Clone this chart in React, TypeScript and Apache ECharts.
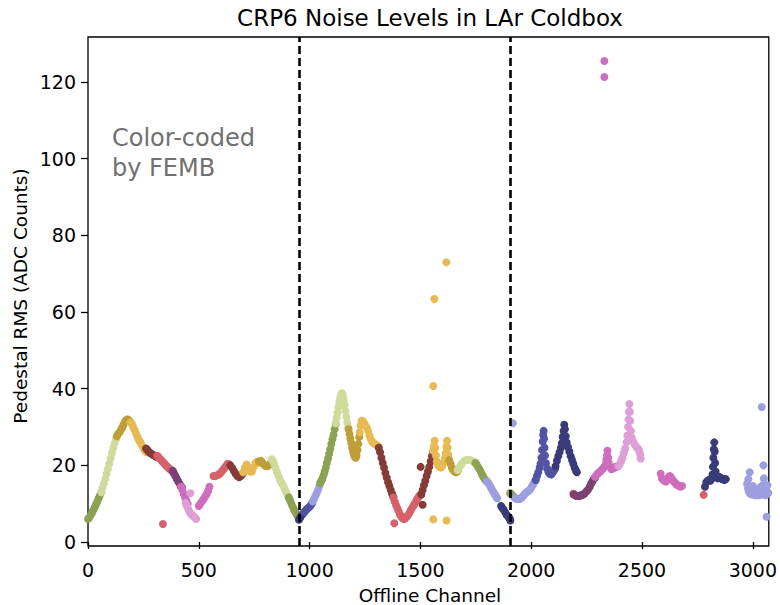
import React, { useEffect, useRef } from 'react';
import * as echarts from 'echarts';

// ---- axis ticks and view boundaries ----
const X_TICKS = [0, 500, 1000, 1500, 2000, 2500, 3000];
const Y_TICKS = [0, 20, 40, 60, 80, 100, 120];
const VIEW_BOUNDARIES = [952, 1904];

// ---- FEMB colour palette ----
const PALETTE = {
  olive: '#8ca252',
  lightGreen: '#cedb9c',
  gold: '#bd9e39',
  yellow: '#e7ba52',
  darkRed: '#843c39',
  red: '#d6616b',
  purple: '#7b4173',
  pink: '#ce6dbd',
  lightPink: '#de9ed6',
  navy: '#393b79',
  blue: '#5254a3',
  lightBlue: '#9c9ede',
};

// ---- data: [offline channel, pedestal RMS] ----
const s01 = [[0,6.0],[6,6.4],[12,7.0],[18,7.6],[24,8.3],[30,9.0],[36,9.8],[42,10.6],[48,11.4],[54,12.2],[60,13.0]];
const s02 = [[60,13.0],[66,14.2],[72,15.3],[78,16.5],[84,17.8],[90,19.1],[96,20.4],[102,21.8],[108,23.2],[114,24.6],[120,25.8],[126,26.8],[130,27.4]];
const s03 = [[130,27.6],[136,28.2],[142,28.6],[148,29.2],[154,29.8],[160,30.6],[166,31.4],[172,31.8],[178,32.0],[184,31.8],[190,31.4]];
const s04 = [[192,31.2],[198,30.8],[204,30.0],[210,29.2],[216,28.4],[222,27.6],[228,26.8],[234,26.2],[240,25.6],[246,25.0],[252,24.4],[258,23.8],[264,23.4]];
const s05 = [[262,24.4],[268,24.0],[274,23.6],[280,23.2],[286,23.0],[292,22.8],[298,22.6],[304,22.4],[310,22.2]];
const s06 = [[312,22.5],[318,22.2],[324,21.8],[330,21.4],[336,21.0],[342,20.6],[348,20.2],[354,19.8],[360,19.6],[366,19.2],[372,18.9],[378,18.6],[384,18.4],[338,4.7]];
const s07 = [[382,18.6],[388,17.9],[394,17.2],[400,16.6],[406,15.9],[412,15.3],[418,14.7],[424,14.2]];
const s08 = [[420,14.4],[426,13.6],[432,12.6],[438,11.6],[444,10.8],[450,9.9]];
const s09 = [[440,10.2],[446,9.4],[452,8.6],[458,7.9],[464,7.4],[470,7.0],[476,6.8],[482,6.4],[488,6.0],[462,12.7]];
const s10 = [[500,9.4],[506,9.9],[512,10.4],[518,10.9],[524,11.4],[530,12.0],[536,12.6],[542,13.4],[548,14.4]];
const s11 = [[566,17.2],[574,17.2],[582,17.4],[590,17.6],[598,18.0],[606,18.6],[614,19.2],[622,19.8],[630,20.4],[638,20.2]];
const s12 = [[642,20.0],[650,19.4],[658,18.6],[666,17.8],[674,17.2],[682,16.9],[690,17.2],[698,17.8]];
const s13 = [[700,18.2],[708,19.4],[716,20.2],[724,19.4],[732,18.4],[740,18.4],[748,19.6],[756,20.6],[764,21.0],[772,20.6]];
const s14 = [[772,21.0],[780,21.2],[788,20.6],[796,20.0],[804,19.8],[812,19.8],[820,20.2],[826,20.8]];
const s15 = [[828,21.6],[834,21.2],[840,20.4],[846,19.4],[852,18.4],[858,17.4],[864,16.6],[870,15.8],[876,15.2],[882,14.6],[888,13.8],[894,13.0],[900,12.2],[906,11.6]];
const s16 = [[906,11.6],[912,10.8],[918,10.0],[924,9.2],[930,8.4],[936,7.8],[942,7.2],[948,6.6],[952,6.2]];
const s17 = [[952,5.8],[958,6.4],[964,7.0],[970,7.4],[976,7.8]];
const s18 = [[976,7.8],[982,8.2],[988,8.6],[994,8.9],[1000,9.2],[1006,9.6],[1012,10.2]];
const s19 = [[1014,10.6],[1020,11.3],[1026,12.0],[1032,12.8],[1038,13.6],[1044,14.6],[1048,15.4]];
const s20 = [[1048,15.4],[1053,16.0],[1058,16.6],[1063,17.4],[1068,18.4],[1073,19.4],[1078,20.6],[1083,21.8],[1088,23.0],[1093,24.2],[1098,25.6],[1103,26.8],[1108,28.0],[1113,29.4],[1118,30.8]];
const s21 = [[1118,31.0],[1122,32.4],[1126,33.8],[1130,35.2],[1134,36.6],[1138,37.6],[1142,38.4],[1146,38.8],[1150,38.4],[1154,37.2],[1158,35.8],[1162,34.2],[1166,32.6],[1170,31.2],[1174,30.0]];
const s22 = [[1176,29.4],[1180,28.2],[1184,27.0],[1188,25.8],[1192,24.6],[1196,23.6],[1200,22.8],[1204,22.2],[1208,22.0],[1212,22.6],[1216,24.0],[1220,25.6],[1224,27.4]];
const s23 = [[1226,28.6],[1230,30.4],[1234,31.6],[1240,31.6],[1246,31.0],[1252,30.4],[1258,29.8],[1264,29.0],[1270,27.8],[1276,26.8],[1282,26.2],[1288,25.8],[1294,25.6],[1300,25.4],[1306,25.2],[1312,24.8]];
const s24 = [[1312,24.6],[1318,23.4],[1324,22.0],[1330,20.6],[1336,19.4],[1342,18.0],[1348,16.8],[1354,15.6],[1360,14.6],[1366,13.6],[1372,12.6],[1378,11.8]];
const s25 = [[1378,11.6],[1384,10.6],[1390,9.6],[1396,8.8],[1402,8.0],[1408,7.2],[1414,6.6],[1420,6.2],[1426,6.0],[1432,6.2],[1438,6.6],[1444,7.0],[1450,7.6],[1456,8.2],[1462,8.8],[1468,9.4],[1474,10.0],[1480,10.6],[1486,11.2],[1492,11.8],[1498,12.2],[1504,12.6],[1382,4.9]];
const s26 = [[1504,12.4],[1510,13.6],[1516,14.8],[1522,16.0],[1528,17.2],[1534,18.4],[1540,19.6],[1546,21.0],[1552,22.4],[1558,23.6],[1501,19.6],[1510,9.7]];
const s27 = [[1558,23.8],[1561,25.0],[1564,26.4],[1567,24.6],[1570,22.6],[1574,21.0],[1580,20.0],[1586,19.6],[1592,19.4],[1598,19.8],[1604,20.6],[1610,21.8],[1614,23.2],[1617,24.8],[1620,26.4],[1623,24.6],[1626,22.8],[1630,21.2],[1558,40.7],[1563,63.4],[1617,73.0],[1558,5.9],[1618,5.6]];
const s28 = [[1630,21.4],[1636,20.4],[1642,19.4],[1648,18.8],[1654,18.4],[1660,18.2],[1666,18.4],[1670,18.8]];
const s29 = [[1668,18.8],[1676,19.6],[1684,20.2],[1692,20.8],[1700,21.2],[1708,21.4],[1716,21.4],[1724,21.4],[1732,21.2],[1740,21.0],[1748,20.6]];
const s30 = [[1748,20.6],[1754,20.2],[1760,19.6],[1766,19.0],[1772,18.4],[1778,17.6],[1784,17.0],[1790,16.4],[1796,16.0]];
const s31 = [[1800,15.8],[1806,15.4],[1812,14.8],[1818,14.2],[1824,13.6],[1830,13.0],[1836,12.4],[1842,11.8],[1846,11.4]];
const s32 = [[1864,9.4],[1870,8.8],[1876,8.4],[1882,7.8],[1888,7.2],[1894,6.8],[1900,6.4],[1904,6.0],[1906,5.6]];
const s33 = [[1906,12.6],[1912,12.4],[1918,12.0],[1924,11.6],[1930,11.4],[1936,11.2],[1942,11.2],[1948,11.2],[1954,11.4],[1960,11.8],[1966,12.2],[1972,12.6],[1978,13.0],[1984,13.2],[1990,13.4],[1996,13.8],[2002,14.4],[2008,15.0],[2014,15.6],[2020,16.2],[1917,31.0]];
const s34 = [[1905,12.8]];
const s35 = [[2020,16.2],[2026,17.2],[2032,18.2],[2038,19.4],[2042,20.4],[2046,22.0],[2049,24.0],[2052,26.2],[2054,28.0],[2056,29.0],[2058,27.0],[2060,24.6],[2062,22.6],[2066,20.6],[2072,19.2],[2078,18.2],[2084,17.8],[2090,17.6],[2096,18.0],[2102,18.6],[2108,19.2]];
const s36 = [[2110,19.8],[2116,21.2],[2122,22.4],[2128,23.4],[2134,24.6],[2138,25.8],[2142,27.4],[2146,29.0],[2149,30.6],[2152,29.4],[2156,27.6],[2160,26.0],[2166,24.8],[2172,23.6],[2178,22.4],[2184,21.4],[2190,20.4],[2196,19.4],[2202,18.6],[2206,18.2]];
const s37 = [[2190,12.6]];
const s38 = [[2192,12.4],[2198,12.2],[2204,12.0],[2210,12.0],[2216,12.0],[2222,12.2],[2228,12.2],[2234,12.4],[2240,12.6],[2246,13.0],[2252,13.4],[2258,13.8],[2264,14.4],[2270,15.2],[2276,15.8],[2282,16.4],[2288,16.8]];
const s39 = [[2288,17.0],[2294,17.4],[2300,17.8],[2306,18.2],[2312,18.4],[2318,18.8],[2324,19.2],[2330,19.6],[2336,20.2],[2339,21.4],[2342,22.6],[2344,23.8],[2347,22.0],[2350,20.6],[2356,19.6],[2362,19.0],[2368,19.2],[2374,19.4],[2380,19.6],[2386,19.6],[2392,19.8],[2330,121.3],[2330,125.5]];
const s40 = [[2394,19.8],[2400,20.4],[2406,21.2],[2412,22.0],[2418,23.2],[2424,24.4],[2430,26.0],[2434,27.8],[2437,30.0],[2439,32.0],[2441,34.0],[2443,36.0],[2445,34.0],[2447,31.6],[2450,29.0],[2454,27.2],[2460,26.2],[2466,25.6],[2472,25.0],[2478,24.6],[2484,24.2],[2488,23.6],[2492,22.8],[2494,21.8]];
const s41 = [[2584,17.8],[2590,16.6],[2596,16.2],[2602,16.0],[2608,15.8],[2614,16.4],[2620,17.0],[2626,17.2],[2632,16.8],[2638,16.2],[2644,15.8],[2650,15.4],[2656,15.0],[2662,14.8],[2668,14.6],[2674,14.4],[2680,14.6]];
const s42 = [[2778,12.3]];
const s43 = [[2784,14.4],[2790,15.6],[2796,16.0],[2802,16.2],[2808,16.0],[2814,16.4],[2818,17.6],[2820,19.6],[2822,22.0],[2824,24.2],[2826,26.0],[2828,23.6],[2830,20.6],[2832,18.4],[2836,17.0],[2842,16.6],[2848,17.0],[2854,16.8],[2860,16.4],[2866,16.4],[2872,16.2],[2878,16.4]];
const s44 = [[2974,15.2],[2978,14.0],[2982,13.2],[2986,18.2],[2988,12.6],[2992,13.8],[2996,12.4],[3000,14.6],[3004,12.8],[3008,12.2],[3012,13.6],[3016,12.6],[3020,12.2],[3024,13.0],[3028,12.2],[3032,14.2],[3036,13.0],[3040,12.4],[3044,14.8],[3048,20.0],[3050,16.6],[3054,13.4],[3058,12.2],[3062,13.4],[3066,14.8],[3070,12.8],[3040,35.2],[3062,6.6],[2980,16.4],[3010,13.4]];

const SEGMENTS = [
  { data: s01, color: PALETTE.olive },
  { data: s02, color: PALETTE.lightGreen },
  { data: s03, color: PALETTE.gold },
  { data: s04, color: PALETTE.yellow },
  { data: s05, color: PALETTE.darkRed },
  { data: s06, color: PALETTE.red },
  { data: s07, color: PALETTE.purple },
  { data: s08, color: PALETTE.pink },
  { data: s09, color: PALETTE.lightPink },
  { data: s10, color: PALETTE.pink },
  { data: s11, color: PALETTE.red },
  { data: s12, color: PALETTE.darkRed },
  { data: s13, color: PALETTE.yellow },
  { data: s14, color: PALETTE.gold },
  { data: s15, color: PALETTE.lightGreen },
  { data: s16, color: PALETTE.olive },
  { data: s17, color: PALETTE.navy },
  { data: s18, color: PALETTE.blue },
  { data: s19, color: PALETTE.lightBlue },
  { data: s20, color: PALETTE.olive },
  { data: s21, color: PALETTE.lightGreen },
  { data: s22, color: PALETTE.gold },
  { data: s23, color: PALETTE.yellow },
  { data: s24, color: PALETTE.darkRed },
  { data: s25, color: PALETTE.red },
  { data: s26, color: PALETTE.darkRed },
  { data: s27, color: PALETTE.yellow },
  { data: s28, color: PALETTE.gold },
  { data: s29, color: PALETTE.lightGreen },
  { data: s30, color: PALETTE.olive },
  { data: s31, color: PALETTE.lightBlue },
  { data: s32, color: PALETTE.navy },
  { data: s33, color: PALETTE.lightBlue },
  { data: s34, color: PALETTE.olive },
  { data: s35, color: PALETTE.blue },
  { data: s36, color: PALETTE.navy },
  { data: s37, color: PALETTE.red },
  { data: s38, color: PALETTE.purple },
  { data: s39, color: PALETTE.pink },
  { data: s40, color: PALETTE.lightPink },
  { data: s41, color: PALETTE.pink },
  { data: s42, color: PALETTE.red },
  { data: s43, color: PALETTE.navy },
  { data: s44, color: PALETTE.lightBlue },
];

const FONT = '"DejaVu Sans", sans-serif';

export default function App() {
  const ref = useRef<HTMLDivElement>(null);

  useEffect(() => {
    document.body.style.margin = '0';
    const chart = echarts.init(ref.current!, null, { renderer: 'svg' });

    const series: any[] = SEGMENTS.map((s) => ({
      type: 'scatter',
      data: s.data,
      symbol: 'circle',
      symbolSize: 8,
      itemStyle: { color: s.color, opacity: 1 },
      silent: true,
      z: 2,
    }));
    series.push({
      type: 'scatter',
      data: [],
      z: 5,
      silent: true,
      markLine: {
        silent: true,
        symbol: ['none', 'none'],
        label: { show: false },
        lineStyle: { color: '#000', width: 2.6, type: [8, 4] },
        data: VIEW_BOUNDARIES.map((v) => ({ xAxis: v })),
      },
    });

    chart.setOption({
      animation: false,
      grid: {
        left: 88,
        top: 37,
        width: 684,
        height: 509,
        show: true,
        borderColor: '#000',
        borderWidth: 1.3,
        backgroundColor: 'transparent',
        containLabel: false,
      },
      xAxis: {
        type: 'value',
        min: 0,
        max: 3072,
        splitLine: { show: false },
        axisLine: { show: false },
        axisTick: { show: true, length: 7, lineStyle: { color: '#000', width: 1.3 }, customValues: X_TICKS },
        axisLabel: {
          color: '#000',
          fontSize: 19,
          fontFamily: FONT,
          margin: 14,
          customValues: X_TICKS,
          formatter: (v: number) => String(v),
        },
      },
      yAxis: {
        type: 'value',
        min: -1.04,
        max: 131.74,
        splitLine: { show: false },
        axisLine: { show: false },
        axisTick: { show: true, length: 7, lineStyle: { color: '#000', width: 1.3 }, customValues: Y_TICKS },
        axisLabel: {
          color: '#000',
          fontSize: 19,
          fontFamily: FONT,
          margin: 12,
          customValues: Y_TICKS,
          formatter: (v: number) => String(v),
        },
      },
      series,
      graphic: [
        {
          type: 'text',
          x: 430,
          y: 18,
          silent: true,
          style: { text: 'CRP6 Noise Levels in LAr Coldbox', fill: '#000', font: `23px ${FONT}`, align: 'center', verticalAlign: 'middle' },
        },
        {
          type: 'text',
          x: 430,
          y: 595,
          silent: true,
          style: { text: 'Offline Channel', fill: '#000', font: `18.5px ${FONT}`, align: 'center', verticalAlign: 'middle' },
        },
        {
          type: 'text',
          x: 20,
          y: 296,
          rotation: Math.PI / 2,
          silent: true,
          style: { text: 'Pedestal RMS (ADC Counts)', fill: '#000', font: `18.5px ${FONT}`, align: 'center', verticalAlign: 'middle' },
        },
        {
          type: 'text',
          x: 112,
          y: 138,
          silent: true,
          style: { text: 'Color-coded', fill: '#707070', font: `24px ${FONT}`, align: 'left', verticalAlign: 'middle' },
        },
        {
          type: 'text',
          x: 112,
          y: 168,
          silent: true,
          style: { text: 'by FEMB', fill: '#707070', font: `24px ${FONT}`, align: 'left', verticalAlign: 'middle' },
        },
      ],
    });

    return () => chart.dispose();
  }, []);

  return <div ref={ref} style={{ width: 780, height: 605 }} />;
}
